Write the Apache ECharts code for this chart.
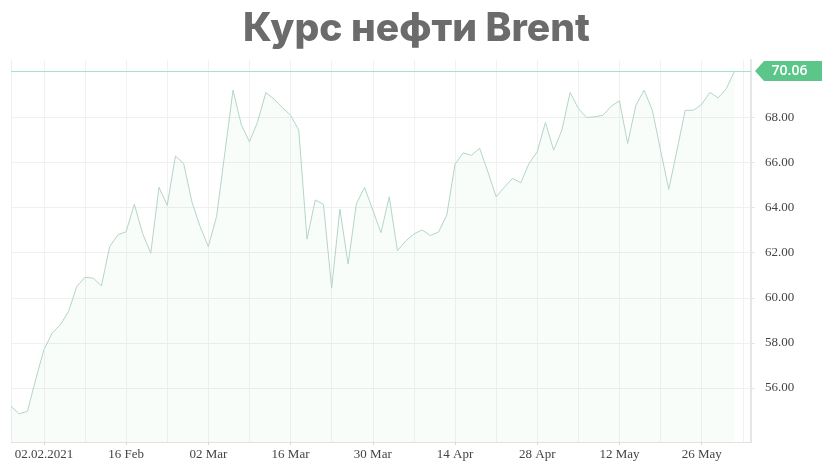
<!DOCTYPE html>
<html>
<head>
<meta charset="utf-8">
<title>Курс нефти Brent</title>
<script src="https://cdn.jsdelivr.net/npm/echarts@6/dist/echarts.min.js"></script>
<style>
  html, body { margin: 0; padding: 0; background: #fff; }
  #chart { width: 833px; height: 473px; }
</style>
</head>
<body>
<div id="chart"></div>
<script>
// trading days shown on the axis (the last two carry no price, they only pad the axis)
const tradeDates = [
  '2021-01-27', '2021-01-28', '2021-01-29', '2021-02-01', '2021-02-02', '2021-02-03', '2021-02-04', '2021-02-05',
  '2021-02-08', '2021-02-09', '2021-02-10', '2021-02-11', '2021-02-12', '2021-02-15', '2021-02-16', '2021-02-17',
  '2021-02-18', '2021-02-19', '2021-02-22', '2021-02-23', '2021-02-24', '2021-02-25', '2021-02-26', '2021-03-01',
  '2021-03-02', '2021-03-03', '2021-03-04', '2021-03-05', '2021-03-08', '2021-03-09', '2021-03-10', '2021-03-11',
  '2021-03-12', '2021-03-15', '2021-03-16', '2021-03-17', '2021-03-18', '2021-03-19', '2021-03-22', '2021-03-23',
  '2021-03-24', '2021-03-25', '2021-03-26', '2021-03-29', '2021-03-30', '2021-03-31', '2021-04-01', '2021-04-05',
  '2021-04-06', '2021-04-07', '2021-04-08', '2021-04-09', '2021-04-12', '2021-04-13', '2021-04-14', '2021-04-15',
  '2021-04-16', '2021-04-19', '2021-04-20', '2021-04-21', '2021-04-22', '2021-04-23', '2021-04-26', '2021-04-27',
  '2021-04-28', '2021-04-29', '2021-04-30', '2021-05-03', '2021-05-04', '2021-05-05', '2021-05-06', '2021-05-07',
  '2021-05-10', '2021-05-11', '2021-05-12', '2021-05-13', '2021-05-14', '2021-05-17', '2021-05-18', '2021-05-19',
  '2021-05-20', '2021-05-21', '2021-05-24', '2021-05-25', '2021-05-26', '2021-05-27', '2021-05-28', '2021-05-31',
  '2021-06-01', '2021-06-02', '2021-06-03'
];

// Brent, USD per barrel
const brentPrice = [
  55.18, 54.85, 54.96, 56.37, 57.69, 58.43, 58.80, 59.39, 60.50, 60.91,
  60.87, 60.53, 62.27, 62.79, 62.93, 64.15, 62.86, 61.98, 64.90, 64.10,
  66.29, 65.96, 64.26, 63.16, 62.27, 63.60, 66.40, 69.21, 67.69, 66.92,
  67.81, 69.11, 68.81, 68.44, 68.10, 67.44, 62.60, 64.34, 64.15, 60.43,
  63.93, 61.50, 64.16, 64.90, 63.89, 62.89, 64.48, 62.09, 62.52, 62.83,
  63.01, 62.76, 62.92, 63.67, 65.93, 66.43, 66.32, 66.63, 65.59, 64.48,
  64.90, 65.30, 65.10, 65.96, 66.48, 67.78, 66.55, 67.44, 69.11, 68.40,
  68.00, 68.03, 68.10, 68.50, 68.74, 66.85, 68.54, 69.21, 68.32, 66.55,
  64.81, 66.55, 68.32, 68.32, 68.58, 69.11, 68.87, 69.28, 70.06
];

const priceTicks = [56, 58, 60, 62, 64, 66, 68];
const monthNames = ['Jan', 'Feb', 'Mar', 'Apr', 'May', 'Jun'];

const lastPrice = brentPrice[brentPrice.length - 1];

function dateLabel(iso, idx) {
  const [y, m, d] = iso.split('-');
  if (idx === 4) return d + '.' + m + '.' + y;
  return d + ' ' + monthNames[Number(m) - 1];
}

const chart = echarts.init(document.getElementById('chart'));

const option = {
  animation: false,
  title: {
    text: 'Курс нефти Brent',
    left: 'center',
    top: 5,
    textStyle: {
      fontFamily: 'Inter',
      fontWeight: 800,
      fontSize: 39,
      color: '#6b6b6b'
    }
  },
  grid: {
    left: 11,
    right: 82,
    top: 60,
    bottom: 31
  },
  xAxis: {
    type: 'category',
    boundaryGap: false,
    data: tradeDates,
    axisLine: { lineStyle: { color: '#e2e2e2', width: 1 } },
    axisTick: {
      interval: (idx) => idx % 10 === 4,
      length: 3,
      lineStyle: { color: '#d8d8d8' }
    },
    axisLabel: {
      interval: (idx) => idx % 10 === 4,
      margin: 6,
      fontFamily: 'Liberation Serif',
      fontSize: 13,
      color: '#444',
      formatter: dateLabel
    },
    splitLine: {
      show: true,
      interval: (idx) => idx % 5 === 4,
      lineStyle: { color: '#f1f1f1' }
    }
  },
  yAxis: [
    {
      type: 'value',
      position: 'right',
      min: 53.6,
      max: 70.55,
      axisLine: { show: true, lineStyle: { color: '#e6e6e6', width: 2 } },
      axisTick: {
        show: true,
        length: 4,
        customValues: priceTicks,
        lineStyle: { color: '#e6e6e6' }
      },
      axisLabel: {
        customValues: priceTicks,
        margin: 14,
        fontFamily: 'Liberation Serif',
        fontSize: 13,
        color: '#444',
        formatter: (v) => v.toFixed(2)
      },
      splitLine: { show: true, lineStyle: { color: '#f0f0f0' } }
    },
    {
      // only draws the faint left border of the plot
      type: 'value',
      position: 'left',
      min: 53.6,
      max: 70.55,
      axisLine: { show: true, lineStyle: { color: '#efefef' } },
      axisTick: { show: false },
      axisLabel: { show: false },
      splitLine: { show: false }
    }
  ],
  series: [
    {
      type: 'line',
      data: brentPrice,
      symbol: 'none',
      lineStyle: { color: '#b4d5c5', width: 1 },
      areaStyle: { color: 'rgba(110, 215, 150, 0.07)' },
      markLine: {
        silent: true,
        symbol: ['none', 'none'],
        label: { show: false },
        lineStyle: { color: '#a6e1cc', width: 1, type: 'solid' },
        data: [{ yAxis: lastPrice }]
      },
      markPoint: {
        silent: true,
        symbol: 'path://M0,10L9,0L67,0L67,20L9,20Z',
        symbolSize: [67, 20],
        symbolOffset: [37.5, 0],
        itemStyle: { color: '#5cc68a' },
        label: {
          show: true,
          position: 'inside',
          offset: [1, 0],
          fontFamily: 'Open Sans',
          fontSize: 14,
          fontWeight: 600,
          color: '#fff',
          formatter: () => lastPrice.toFixed(2)
        },
        data: [{ coord: [tradeDates.length - 1, lastPrice], value: lastPrice }]
      }
    }
  ]
};

chart.setOption(option);
</script>
</body>
</html>
